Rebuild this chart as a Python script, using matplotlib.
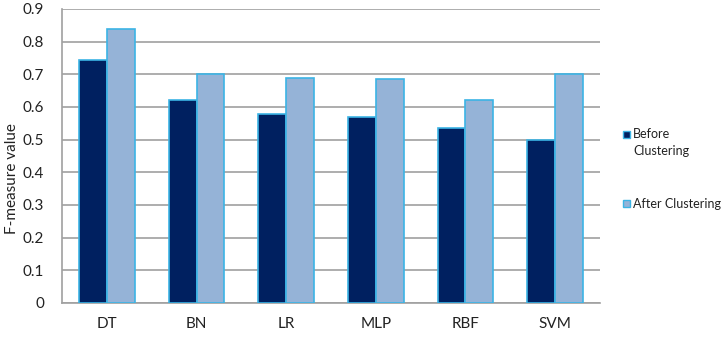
import numpy as np
import matplotlib.pyplot as plt
from matplotlib.patches import Rectangle

plt.rcParams['font.family'] = ['Lato', 'DejaVu Sans']

# data
methods = ['DT', 'BN', 'LR', 'MLP', 'RBF', 'SVM']
before = [0.745, 0.62, 0.578, 0.57, 0.535, 0.50]
after = [0.84, 0.70, 0.69, 0.685, 0.62, 0.70]
yticks = [0, 0.1, 0.2, 0.3, 0.4, 0.5, 0.6, 0.7, 0.8, 0.9]

c_before = '#002060'
c_after = '#95B3D7'
c_edge = '#3CB4E5'

fig = plt.figure(figsize=(7.23, 3.38), dpi=100)
ax = fig.add_axes([0.0858, 0.1036, 0.744, 0.8698])

x = np.arange(len(methods))
w = 0.31
ax.bar(x - w / 2, before, w, color=c_before, edgecolor=c_edge, linewidth=1.2, zorder=3)
ax.bar(x + w / 2, after, w, color=c_after, edgecolor=c_edge, linewidth=1.2, zorder=3)

ax.set_xlim(-0.5, len(methods) - 0.5)
ax.set_ylim(0, 0.9)
ax.set_yticks(yticks)
ax.set_yticklabels(['0'] + ['%.1f' % v for v in yticks[1:]])
ax.set_xticks(x)
ax.set_xticklabels(methods)
ax.tick_params(axis='both', labelsize=11, colors='#222222', length=0)
ax.tick_params(axis='x', pad=10)
ax.tick_params(axis='y', pad=13)
ax.grid(axis='y', color='#A0A0A0', linewidth=1.2, zorder=0)
for s in ['top', 'right']:
    ax.spines[s].set_visible(False)
ax.spines['left'].set_color('#A0A0A0')
ax.spines['bottom'].set_color('#A0A0A0')
ax.spines['left'].set_linewidth(1.2)
ax.spines['bottom'].set_linewidth(1.2)

fig.text(0.016, 0.473, 'F-measure value', rotation=90, ha='center', va='center',
         fontsize=11, color='#222222')

# legend drawn by hand
fig.patches.append(Rectangle((623 / 723, 1 - 138 / 338), 7 / 723, 7 / 338,
                             transform=fig.transFigure, facecolor=c_before,
                             edgecolor=c_edge, linewidth=1))
fig.text(633 / 723, 1 - 134 / 338, 'Before', fontsize=9, va='center', color='#222222')
fig.text(633 / 723, 1 - 151 / 338, 'Clustering', fontsize=9, va='center', color='#222222')
fig.patches.append(Rectangle((623 / 723, 1 - 207 / 338), 7 / 723, 7 / 338,
                             transform=fig.transFigure, facecolor=c_after,
                             edgecolor=c_edge, linewidth=1))
fig.text(633 / 723, 1 - 204 / 338, 'After Clustering', fontsize=9, va='center', color='#222222')

fig.savefig('out.png', dpi=100)
